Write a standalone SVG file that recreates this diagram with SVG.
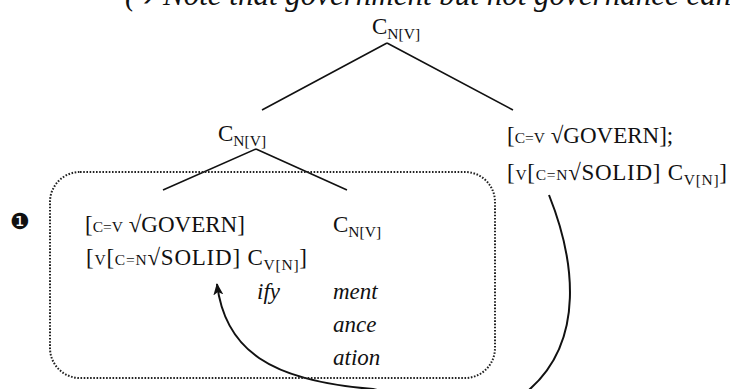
<svg xmlns="http://www.w3.org/2000/svg" width="730" height="389" viewBox="0 0 730 389">
<defs>
<style>
text{font-family:"Liberation Serif","Times New Roman",serif;font-size:23px;fill:#111}
.s{font-size:15.5px}
.it{font-style:italic}
.tree{stroke:#111;stroke-width:1.6;fill:none}
.box{stroke:#222;stroke-width:2;fill:none;stroke-dasharray:1.6 1.6}
.arc{stroke:#111;stroke-width:2;fill:none}
</style>
<marker id="ah" viewBox="0 0 12 10" refX="11" refY="5" markerWidth="12" markerHeight="10" markerUnits="userSpaceOnUse" orient="auto">
<path d="M0,0 L12,5 L0,10 L3,5 Z" fill="#111"/>
</marker>
</defs>
<g id="header">
<text x="125" y="5" class="it" style="font-size:31px">(</text>
<text x="136" y="5" style="font-family:'DejaVu Sans',sans-serif;font-size:20px">➔</text>
<text x="163" y="5" class="it" style="font-size:31px">Note that government but not governance can</text>
</g>
<g id="connectors">
<path class="tree" d="M387,43 L262,110 M387,43 L513,110"/>
<path class="tree" d="M256,149 L163,190 M256,149 L347,190"/>
<path class="arc" d="M549,195 C575,260 585,340 530,389 C500,425 430,402 373,389 C270,381 225,350 217,284" marker-end="url(#ah)"/>
</g>
<g id="root">
<text x="372" y="34">C<tspan class="s" dy="5">N[V]</tspan></text>
</g>
<g id="mid-left">
<text x="218" y="141">C<tspan class="s" dy="5">N[V]</tspan></text>
</g>
<g id="mid-right">
<text x="507" y="143">[<tspan class="s">C=V</tspan> √GOVERN];</text>
<text x="507" y="180" textLength="220">[<tspan class="s">V</tspan>[<tspan class="s">C=N</tspan>√SOLID] C<tspan class="s" dy="5">V[N]</tspan><tspan dy="-5">]</tspan></text>
</g>
<g id="box">
<rect class="box" x="50" y="172" width="445" height="206" rx="30" ry="30"/>
</g>
<g id="label-1">
<text x="10" y="229" style="font-family:'DejaVu Sans',sans-serif;font-size:22px">❶</text>
</g>
<g id="inner-left">
<text x="85" y="232">[<tspan class="s">C=V</tspan> √GOVERN]</text>
<text x="86" y="265" textLength="221">[<tspan class="s">V</tspan>[<tspan class="s">C=N</tspan>√SOLID] C<tspan class="s" dy="5">V[N]</tspan><tspan dy="-5">]</tspan></text>
<text x="257" y="299" class="it">ify</text>
</g>
<g id="inner-right">
<text x="333" y="232">C<tspan class="s" dy="5">N[V]</tspan></text>
<text x="333" y="299" class="it">ment</text>
<text x="333" y="332" class="it">ance</text>
<text x="333" y="365" class="it">ation</text>
</g>
</svg>
